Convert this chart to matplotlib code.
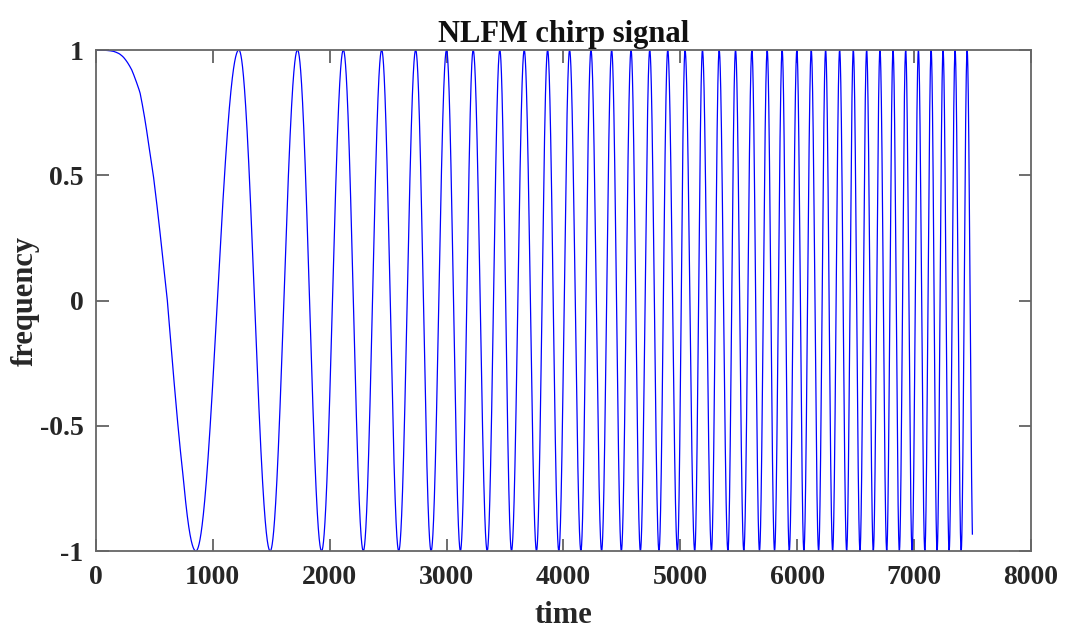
import numpy as np
import matplotlib
matplotlib.use("Agg")
import matplotlib.pyplot as plt
from matplotlib.ticker import FixedLocator, FixedFormatter

# first lobe, read point by point (time, value)
lobe_t = [0, 100, 148, 200, 234, 270, 306, 340, 377, 420, 463, 491, 534, 577, 611, 677, 748]
lobe_y = [1.0, 0.998, 0.995, 0.985, 0.972, 0.95, 0.921, 0.88, 0.83, 0.72, 0.585, 0.5,
          0.332, 0.147, 0.0, -0.37, -0.71]

# times of the minima (-1) and maxima (+1)
trough_t = [855, 1491, 1931, 2288, 2591, 2868, 3119, 3348, 3556, 3770, 3961, 4150,
            4327, 4496, 4659, 4818, 4976, 5124, 5267, 5408, 5544, 5678, 5807, 5933,
            6058, 6184, 6304, 6424, 6538, 6652, 6767, 6875, 6984, 7093, 7198, 7301,
            7404, 7506]
peak_t = [1223, 1725, 2117, 2445, 2736, 3000, 3228, 3456, 3665, 3865, 4053, 4236,
          4413, 4579, 4739, 4893, 5041, 5190, 5333, 5473, 5613, 5744, 5872, 5998,
          6121, 6244, 6364, 6481, 6595, 6709, 6821, 6929, 7038, 7147, 7249, 7352,
          7455]
t_end = 7500

xticks = [0, 1000, 2000, 3000, 4000, 5000, 6000, 7000, 8000]
yticks = [-1, -0.5, 0, 0.5, 1]
ytick_labels = ["-1", "-0.5", "0", "0.5", "1"]

# phase knots: arccos of the first lobe, then one half turn per extremum
extrema = sorted(trough_t + peak_t)
knot_t = np.array(lobe_t + extrema, dtype=float)
knot_ph = np.concatenate([np.arccos(lobe_y), np.pi * np.arange(1, len(extrema) + 1)])
t = np.linspace(0, t_end, 20001)
y = np.cos(np.interp(t, knot_t, knot_ph))

plt.rcParams['font.family'] = ['Liberation Serif', 'DejaVu Serif']
plt.rcParams['font.weight'] = 'bold'
plt.rcParams['axes.unicode_minus'] = False

fig = plt.figure(figsize=(10.66, 6.37), dpi=100)
ax = fig.add_axes([0.090, 0.135, 0.877, 0.7865])
ax.plot(t, y, color='#0000ff', linewidth=0.9)

ax.set_xlim(0, 8000)
ax.set_ylim(-1, 1)
ax.xaxis.set_major_locator(FixedLocator(xticks))
ax.yaxis.set_major_locator(FixedLocator(yticks))
ax.yaxis.set_major_formatter(FixedFormatter(ytick_labels))
ax.tick_params(direction='in', length=9, width=1.2, color='#555555',
               top=True, right=True, labelsize=20, labelcolor='#262626')
ax.tick_params(axis='x', pad=10)
ax.tick_params(axis='y', pad=9)
for lab in ax.get_xticklabels() + ax.get_yticklabels():
    lab.set_fontweight('bold')
for s in ax.spines.values():
    s.set_color('#666666')
    s.set_linewidth(1.3)

ax.set_title('NLFM chirp signal', fontsize=22, fontweight='bold', color='#111111', pad=6)
ax.set_xlabel('time', fontsize=22, fontweight='bold', color='#262626', labelpad=8)
ax.set_ylabel('frequency', fontsize=22, fontweight='bold', color='#262626', labelpad=0)

fig.savefig('out.png', dpi=100)
plt.close(fig)
